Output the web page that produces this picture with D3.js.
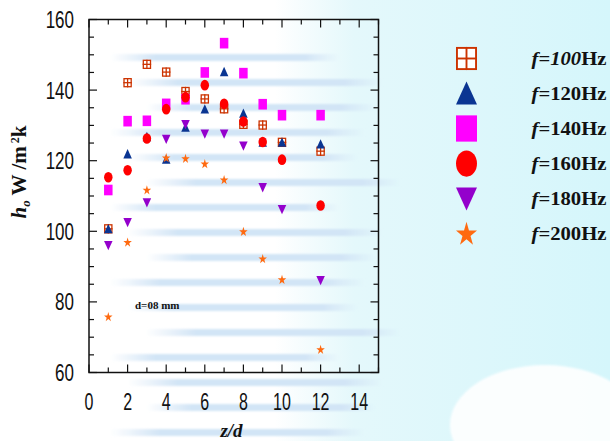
<!DOCTYPE html>
<html>
<head>
<meta charset="utf-8">
<script src="https://cdn.jsdelivr.net/npm/d3@7"></script>
<style>
  html, body { margin: 0; padding: 0; background: #ffffff; }
  svg { display: block; }
</style>
</head>
<body>
<svg id="chart" width="610" height="441"></svg>
<script>
// Axial positions z/d of the measurement stations
const zd = [1, 2, 3, 4, 5, 6, 7, 8, 9, 10, 12];

// Heat transfer coefficient h_o (W/m²K) for each pulsation frequency
const h100 = [100.7, 142.1, 147.3, 145.1, 139.6, 137.5, 134.7, 130.3, 130.1, 125.2, 122.7];
const h120 = [100.7, 121.9, 126.8, 120.4, 129.5, 134.6, 145.2, 133.4, 125.2, 125.2, 124.7];
const h140 = [111.7, 131.2, 131.3, 136.1, 137.4, 145.0, 153.3, 144.8, 136.0, 132.9, 132.9];
const h160 = [115.3, 117.3, 126.3, 134.6, 138.0, 141.4, 136.1, 131.1, 125.3, 120.3, 107.3];
const h180 = [96.0, 102.5, 108.1, 126.1, 130.3, 127.6, 127.6, 124.2, 112.4, 106.2, 86.1];
const h200 = [76.0, 97.1, 111.9, 121.0, 120.8, 119.3, 114.8, 100.1, 92.4, 86.5, 66.7];

const freqs = [100, 120, 140, 160, 180, 200];
const xTicks = [0, 2, 4, 6, 8, 10, 12, 14];
const yTicks = [60, 80, 100, 120, 140, 160];

const series = [
  { f: freqs[0], values: h100, shape: "gridSquare", color: "#cc3300" },
  { f: freqs[1], values: h120, shape: "triangleUp", color: "#0a3592" },
  { f: freqs[2], values: h140, shape: "square",     color: "#ff00ff" },
  { f: freqs[3], values: h160, shape: "circle",     color: "#ff0000" },
  { f: freqs[4], values: h180, shape: "triangleDown", color: "#9400cc" },
  { f: freqs[5], values: h200, shape: "star",       color: "#ff6a10" }
];

const svg = d3.select("#chart");
const W = 610, H = 441;
const M = { left: 89, right: 378.5, top: 19.5, bottom: 372.5 };

// ---- pale watermark-like backdrop ----
const defs = svg.append("defs");
const g1 = defs.append("linearGradient").attr("id", "bgGrad").attr("x1", 0).attr("x2", 1).attr("y1", 0).attr("y2", 0);
g1.append("stop").attr("offset", "0%").attr("stop-color", "#ffffff");
g1.append("stop").attr("offset", "45%").attr("stop-color", "#ffffff");
g1.append("stop").attr("offset", "58%").attr("stop-color", "#e4f8fb");
g1.append("stop").attr("offset", "100%").attr("stop-color", "#d5f6fb");
svg.append("rect").attr("width", W).attr("height", H).attr("fill", "url(#bgGrad)");

const g2 = defs.append("linearGradient").attr("id", "bandGrad").attr("x1", 0).attr("x2", 1).attr("y1", 0).attr("y2", 0);
g2.append("stop").attr("offset", "0%").attr("stop-color", "#d2e5f6").attr("stop-opacity", 0);
g2.append("stop").attr("offset", "20%").attr("stop-color", "#d2e5f6").attr("stop-opacity", 1);
g2.append("stop").attr("offset", "85%").attr("stop-color", "#d2e5f6").attr("stop-opacity", 1);
g2.append("stop").attr("offset", "100%").attr("stop-color", "#d2e5f6").attr("stop-opacity", 0);
defs.append("filter").attr("id", "soft").append("feGaussianBlur").attr("stdDeviation", 1.3);

const bandY = d3.range(54, 436, 25);
svg.append("g").attr("filter", "url(#soft)").selectAll("rect").data(bandY).join("rect")
  .attr("x", (d, i) => 110 + (i % 3) * 18)
  .attr("y", d => d)
  .attr("width", (d, i) => 230 + (i % 2) * 25)
  .attr("height", 7)
  .attr("fill", "url(#bandGrad)");
svg.append("ellipse").attr("cx", 545).attr("cy", 425).attr("rx", 95).attr("ry", 60)
  .attr("fill", "#ffffff").attr("opacity", 0.9).attr("filter", "url(#soft)");

// ---- scales ----
const x = d3.scaleLinear().domain([0, 15]).range([M.left, M.right]);
const y = d3.scaleLinear().domain([60, 160]).range([M.bottom, M.top]);

// ---- frame and inward ticks ----
const axG = svg.append("g").attr("stroke", "#111").attr("fill", "none");
axG.append("rect")
  .attr("x", M.left).attr("y", M.top)
  .attr("width", M.right - M.left).attr("height", M.bottom - M.top)
  .attr("stroke-width", 1.5);

const xMinor = d3.range(0, 15.01, 1);
const yMinor = d3.range(60, 160.01, 5);
xMinor.forEach(v => {
  const L = v % 2 === 0 ? 8 : 5;
  axG.append("line").attr("x1", x(v)).attr("x2", x(v)).attr("y1", M.bottom).attr("y2", M.bottom - L).attr("stroke-width", 1.2);
  axG.append("line").attr("x1", x(v)).attr("x2", x(v)).attr("y1", M.top).attr("y2", M.top + L).attr("stroke-width", 1.2);
});
yMinor.forEach(v => {
  const L = v % 20 === 0 ? 8 : 5;
  axG.append("line").attr("y1", y(v)).attr("y2", y(v)).attr("x1", M.left).attr("x2", M.left + L).attr("stroke-width", 1.2);
  axG.append("line").attr("y1", y(v)).attr("y2", y(v)).attr("x1", M.right).attr("x2", M.right - L).attr("stroke-width", 1.2);
});

// ---- tick labels (tall narrow sans) ----
const tickFont = "'Liberation Sans', Arial, sans-serif";
svg.append("g").selectAll("text").data(xTicks).join("text")
  .attr("transform", d => `translate(${x(d)},${409.5}) scale(1,1.45)`)
  .attr("text-anchor", "middle")
  .attr("font-family", tickFont).attr("font-size", 16)
  .attr("fill", "#111")
  .text(d => d);
svg.append("g").selectAll("text").data(yTicks).join("text")
  .attr("transform", d => `translate(74,${y(d) + 8.5}) scale(1,1.45)`)
  .attr("text-anchor", "end")
  .attr("font-family", tickFont).attr("font-size", 17)
  .attr("fill", "#111")
  .text(d => d);

// ---- axis titles ----
const serif = "'Liberation Serif', 'Times New Roman', serif";
svg.append("text")
  .attr("x", 231.5).attr("y", 437)
  .attr("text-anchor", "middle")
  .attr("font-family", serif).attr("font-size", 19)
  .attr("font-weight", "bold").attr("font-style", "italic")
  .attr("fill", "#111")
  .text("z/d");

const yt = svg.append("text")
  .attr("transform", "translate(26,172) rotate(-90)")
  .attr("text-anchor", "middle")
  .attr("font-family", serif).attr("font-size", 21)
  .attr("font-weight", "bold")
  .attr("fill", "#111");
yt.append("tspan").attr("font-style", "italic").text("h");
yt.append("tspan").attr("font-style", "italic").attr("font-size", 13).attr("dy", 4).text("o");
yt.append("tspan").attr("dy", -4).text(" W /m");
yt.append("tspan").attr("font-size", 12).attr("dy", -7).text(" 2");
yt.append("tspan").attr("dy", 7).text("k");

svg.append("text")
  .attr("x", 135).attr("y", 308.5)
  .attr("font-family", serif).attr("font-size", 11)
  .attr("font-weight", "bold").attr("fill", "#111")
  .text("d=08 mm");

// ---- marker drawing ----
function drawMarker(g, shape, color, s) {
  // s: nominal marker width in px
  const h = s / 2;
  if (shape === "gridSquare") {
    const sw = Math.max(1.3, s / 11);
    g.append("rect").attr("x", -h + sw / 2).attr("y", -h * 1.1 + sw / 2)
      .attr("width", s - sw).attr("height", s * 1.1 - sw)
      .attr("fill", "#fff").attr("stroke", color).attr("stroke-width", sw);
    g.append("line").attr("x1", 0).attr("x2", 0).attr("y1", -h * 1.1).attr("y2", h * 1.1).attr("stroke", color).attr("stroke-width", sw);
    g.append("line").attr("x1", -h).attr("x2", h).attr("y1", 0).attr("y2", 0).attr("stroke", color).attr("stroke-width", sw);
  } else if (shape === "square") {
    g.append("rect").attr("x", -h).attr("y", -h * 1.25).attr("width", s).attr("height", s * 1.25).attr("fill", color);
  } else if (shape === "circle") {
    g.append("ellipse").attr("rx", h).attr("ry", h * 1.25).attr("fill", color);
  } else if (shape === "triangleUp") {
    g.append("path").attr("d", `M0,${-h * 1.15}L${h},${h * 1.05}L${-h},${h * 1.05}Z`).attr("fill", color);
  } else if (shape === "triangleDown") {
    g.append("path").attr("d", `M0,${h * 1.15}L${h},${-h * 1.05}L${-h},${-h * 1.05}Z`).attr("fill", color);
  } else if (shape === "star") {
    const area = s * s * 0.31;
    g.append("path").attr("d", d3.symbol(d3.symbolStar, area)()).attr("fill", color)
      .attr("transform", "translate(0,1) scale(1,1.15)");
  }
}

// ---- data markers ----
const plotG = svg.append("g");
series.forEach(sr => {
  sr.values.forEach((v, i) => {
    const g = plotG.append("g").attr("transform", `translate(${x(zd[i])},${y(v)})`);
    drawMarker(g, sr.shape, sr.color, 8.5);
  });
});

// ---- legend ----
const leg = svg.append("g");
series.forEach((sr, i) => {
  const cy = 58.5 + i * 35;
  const g = leg.append("g").attr("transform", `translate(466.5,${cy})`);
  drawMarker(g, sr.shape, sr.color, 21);
  const t = leg.append("text")
    .attr("transform", `translate(531.5,${cy + 6}) scale(1.15,1)`)
    .attr("font-family", serif).attr("font-size", 18)
    .attr("font-weight", "bold").attr("fill", "#111");
  t.append("tspan").attr("font-style", "italic").text("f");
  t.append("tspan").text("=");
  t.append("tspan").attr("font-style", i === 0 ? "italic" : "normal").text(sr.f);
  t.append("tspan").text("Hz");
});
</script>
</body>
</html>
